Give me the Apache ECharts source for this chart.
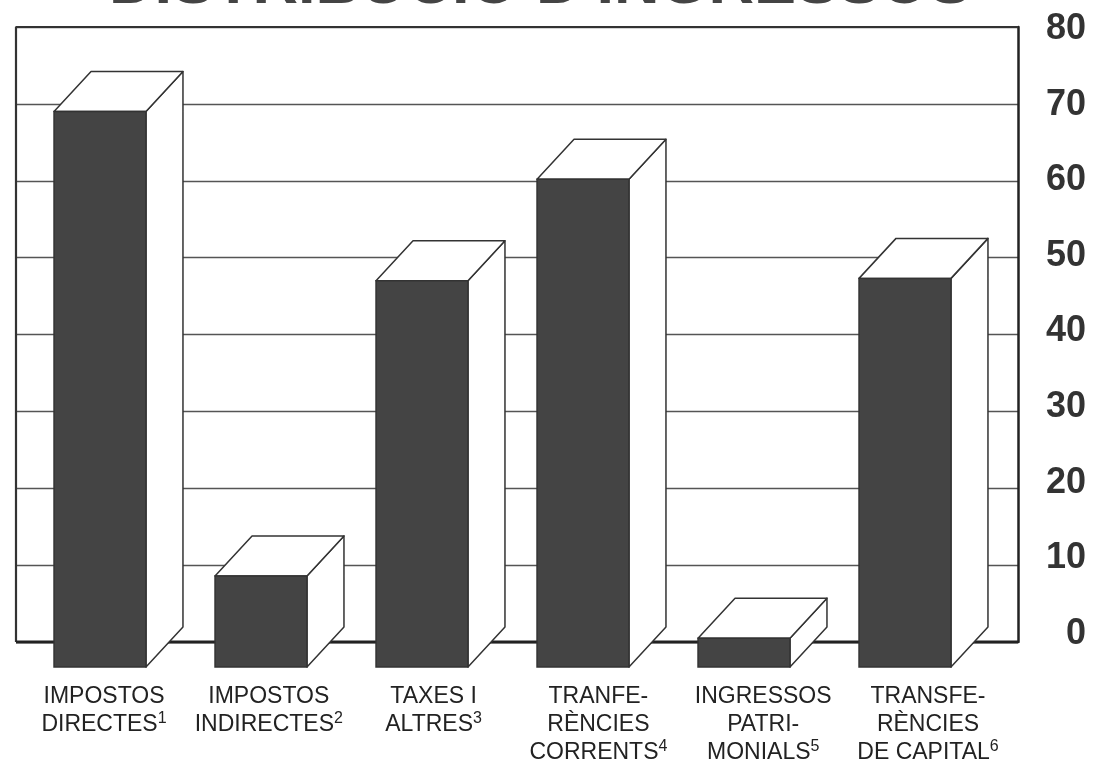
<!DOCTYPE html>
<html><head><meta charset="utf-8">
<style>html,body{margin:0;padding:0;background:#fff}#c{width:1093px;height:760px}</style>
<script src="https://cdn.jsdelivr.net/npm/echarts@6/dist/echarts.min.js"></script>
</head><body><div id="c"></div>
<script>
const titleText = "DISTRIBUCIÓ D'INGRESSOS";
const categories = ["IMPOSTOS\nDIRECTES¹","IMPOSTOS\nINDIRECTES²","TAXES I\nALTRES³","TRANFE-\nRÈNCIES\nCORRENTS⁴","INGRESSOS\nPATRI-\nMONIALS⁵","TRANSFE-\nRÈNCIES\nDE CAPITAL⁶"];
const values = [69.0, 8.6, 47.0, 60.2, 0.5, 47.3];
const yMin = 0, yMax = 80, yStep = 10;

const sup = {'¹':'1','²':'2','³':'3','⁴':'4','⁵':'5','⁶':'6'};
function fmtLabel(s){
  return s.split('\n').map(l=>{
    const m = l.match(/[¹²³⁴⁵⁶]$/);
    return m ? '{m|'+l.slice(0,-1)+'}{s|'+sup[m[0]]+'}' : '{m|'+l+'}';
  }).join('\n');
}
const chart = echarts.init(document.getElementById('c'),null,{renderer:'canvas'});
const DX=37, DY=-40, DROP=25, LINE='#333', DARK='#444';
function renderBar(params, api){
  const i = api.value(0), v = api.value(1);
  const top = api.coord([i,v]), base = api.coord([i,0]);
  const w = api.size([1,0])[0]*0.571;
  const x0 = top[0]-w/2, x1 = top[0]+w/2, y0 = top[1], y1 = base[1]+DROP;
  const st = {stroke:LINE,lineWidth:1.5,lineJoin:'round'};
  return {type:'group',children:[
    {type:'polygon',shape:{points:[[x1,y0],[x1+DX,y0+DY],[x1+DX,y1+DY],[x1,y1]]},style:{fill:'#fff',...st}},
    {type:'polygon',shape:{points:[[x0,y0],[x0+DX,y0+DY],[x1+DX,y0+DY],[x1,y0]]},style:{fill:'#fff',...st}},
    {type:'rect',shape:{x:x0,y:y0,width:w,height:y1-y0},style:{fill:DARK,stroke:LINE,lineWidth:1.5}}
  ]};
}
const gridTop=27, gridH=615;
chart.setOption({
  animation:false,
  backgroundColor:'#fff',
  title:{text:titleText,left:535,textAlign:'center',top:-51,
    textStyle:{fontFamily:'Liberation Sans',fontWeight:'bold',fontSize:63,color:'#444'}},
  grid:[
    {left:16,top:gridTop,width:1002,height:gridH,show:false,outerBoundsMode:'none'},
    {left:19.5,top:gridTop,width:966,height:gridH,show:false,outerBoundsMode:'none'},
    {left:21.6,top:29,width:988.8,height:605,show:false,outerBoundsMode:'none'}
  ],
  xAxis:[
    {gridIndex:0,type:'value',min:0,max:1,show:false},
    {gridIndex:1,type:'category',data:categories,axisLine:{show:false},axisTick:{show:false},axisLabel:{show:false}},
    {gridIndex:2,type:'category',data:categories,axisLine:{show:false},axisTick:{show:false},
      axisLabel:{margin:49,interval:0,formatter:v=>fmtLabel(v),fontFamily:'Liberation Sans',
        rich:{m:{fontFamily:'Liberation Sans',fontSize:23,lineHeight:28,color:'#222'},
              s:{fontFamily:'Liberation Sans',fontSize:16,lineHeight:28,color:'#222',verticalAlign:'top',padding:[0,0,4,0]}}}}
  ],
  yAxis:[
    {gridIndex:0,type:'value',position:'right',min:yMin,max:yMax,interval:yStep,
      axisLine:{show:true,onZero:false,lineStyle:{color:'#222',width:2.5}},axisTick:{show:false},
      splitLine:{show:true,lineStyle:{color:'#555',width:1.3}},axisLabel:{show:false}},
    {gridIndex:1,type:'value',min:yMin,max:yMax,interval:yStep,show:false},
    {gridIndex:2,type:'value',position:'right',min:yMin,max:yMax,interval:yStep,
      axisLine:{show:false},axisTick:{show:false},splitLine:{show:false},
      axisLabel:{margin:75.6,align:'right',fontFamily:'Liberation Sans',fontWeight:'bold',fontSize:36,color:'#333'}}
  ],
  series:[
    {type:'line',xAxisIndex:0,yAxisIndex:0,data:[[0,0],[0,80],[1,80]],silent:true,symbol:'none',clip:false,
      lineStyle:{color:'#333',width:2.2},z:3},
    {type:'line',xAxisIndex:0,yAxisIndex:0,data:[[0,0],[1,0]],silent:true,symbol:'none',clip:false,
      lineStyle:{color:'#222',width:3},z:3},
    {type:'custom',xAxisIndex:1,yAxisIndex:1,clip:false,z:5,renderItem:renderBar,
      encode:{x:0,y:1},data:values.map((v,i)=>[i,v])}
  ]
});
</script></body></html>
